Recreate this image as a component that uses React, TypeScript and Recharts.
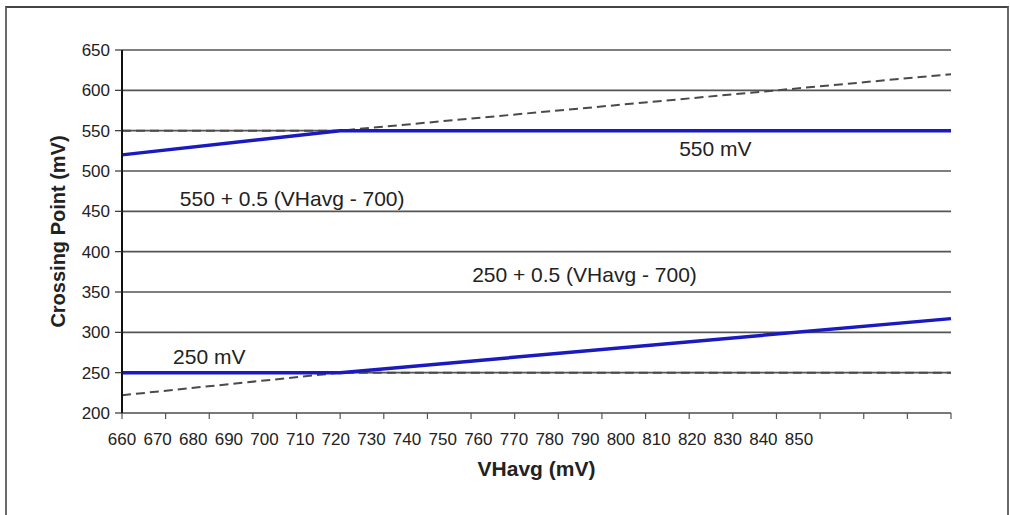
import React from 'react';
import { LineChart, Line, XAxis, YAxis, CartesianGrid, ReferenceDot } from 'recharts';

// VHavg axis tick labels (mV)
const xTicks = [660, 670, 680, 690, 700, 710, 720, 730, 740, 750, 760, 770, 780, 790, 800, 810, 820, 830, 840, 850];
// Crossing point axis ticks (mV)
const yTicks = [200, 250, 300, 350, 400, 450, 500, 550, 600, 650];

// Upper limit: sloped region then clamped at 550 mV
const upperLimit = [
  { x: 660, y: 520 },
  { x: 710, y: 550 },
  { x: 850, y: 550 },
];
// Upper reference: 550 mV flat, then 550 + 0.5 (VHavg - 700)
const upperReference = [
  { x: 660, y: 550 },
  { x: 710, y: 550 },
  { x: 850, y: 620 },
];
// Lower limit: clamped at 250 mV then sloped
const lowerLimit = [
  { x: 660, y: 250 },
  { x: 710, y: 250 },
  { x: 850, y: 317 },
];
// Lower reference: 250 + 0.5 (VHavg - 700), then 250 mV flat
const lowerReference = [
  { x: 660, y: 222 },
  { x: 710, y: 250 },
  { x: 850, y: 250 },
];

// Text annotations placed in data coordinates
const notes = [
  { x: 796, y: 528, text: '550 mV' },
  { x: 699, y: 466, text: '550 + 0.5 (VHavg - 700)' },
  { x: 766, y: 372, text: '250 + 0.5 (VHavg - 700)' },
  { x: 680, y: 270, text: '250 mV' },
];

const FONT = '"Liberation Sans", Arial, Helvetica, sans-serif';
const BLUE = '#1a1ac0';
const DASH = '#4a4a4a';
const LABEL_SHIFT = 8; // x tick labels are set tighter than the tick marks

const XTick = (props: any) => {
  const { x, y, payload, index } = props;
  const i = typeof index === 'number' ? index : payload?.index ?? 0;
  return (
    <text x={x - i * LABEL_SHIFT} y={y} dy="0.71em" textAnchor="middle" fontSize={17} fill="#222" fontFamily={FONT}>
      {payload.value}
    </text>
  );
};

const YTitle = (props: any) => {
  const vb = props.viewBox || { x: 42, y: 50, width: 80, height: 363 };
  const cx = vb.x + 16;
  const cy = vb.y + vb.height / 2;
  return (
    <text
      transform={`translate(${cx},${cy}) rotate(-90)`}
      textAnchor="middle"
      dominantBaseline="central"
      fontSize={20}
      fontWeight="bold"
      fill="#222"
      fontFamily={FONT}
    >
      Crossing Point (mV)
    </text>
  );
};

const XTitle = (props: any) => {
  const vb = props.viewBox || { x: 122, y: 413, width: 829, height: 70 };
  return (
    <text
      x={vb.x + vb.width / 2}
      y={vb.y + 55}
      textAnchor="middle"
      dominantBaseline="central"
      fontSize={21}
      fontWeight="bold"
      fill="#222"
      fontFamily={FONT}
    >
      VHavg (mV)
    </text>
  );
};

export default function App() {
  return (
    <div style={{ position: 'absolute', left: 0, top: 0, width: 1010, height: 515, overflow: 'hidden', background: '#fff' }}>
      <div
        style={{
          position: 'absolute',
          left: 5,
          top: 6,
          width: 1000,
          height: 560,
          border: '2px solid #6a6a6a',
          borderTopColor: '#444',
        }}
      />
      <LineChart
        width={1010}
        height={515}
        margin={{ top: 50, right: 59, left: 42, bottom: 32 }}
        style={{ position: 'absolute', left: 0, top: 0, fontFamily: FONT }}
      >
        <CartesianGrid vertical={false} stroke="#555" strokeWidth={1.6} />
        <XAxis
          type="number"
          dataKey="x"
          domain={[660, 850]}
          ticks={xTicks}
          interval={0}
          height={70}
          tickSize={6}
          tickMargin={14}
          tick={<XTick />}
          axisLine={{ stroke: '#777', strokeWidth: 1.5 }}
          tickLine={{ stroke: '#555', strokeWidth: 1.2 }}
          label={(p: any) => <XTitle {...p} />}
        />
        <YAxis
          type="number"
          domain={[200, 650]}
          ticks={yTicks}
          interval={0}
          width={80}
          tickSize={7}
          tickMargin={5}
          tick={{ fontSize: 17, fill: '#222', fontFamily: FONT }}
          axisLine={{ stroke: '#111', strokeWidth: 2 }}
          tickLine={{ stroke: '#333', strokeWidth: 1.2 }}
          label={(p: any) => <YTitle {...p} />}
        />
        <Line data={upperReference} dataKey="y" type="linear" stroke={DASH} strokeWidth={2} strokeDasharray="9 5" dot={false} activeDot={false} isAnimationActive={false} />
        <Line data={lowerReference} dataKey="y" type="linear" stroke={DASH} strokeWidth={2} strokeDasharray="9 5" dot={false} activeDot={false} isAnimationActive={false} />
        <Line data={upperLimit} dataKey="y" type="linear" stroke={BLUE} strokeWidth={3.5} dot={false} activeDot={false} isAnimationActive={false} />
        <Line data={lowerLimit} dataKey="y" type="linear" stroke={BLUE} strokeWidth={3.5} dot={false} activeDot={false} isAnimationActive={false} />
        {notes.map((n) => (
          <ReferenceDot
            key={n.text}
            x={n.x}
            y={n.y}
            r={0}
            fill="none"
            stroke="none"
            label={{ value: n.text, position: 'center', fontSize: 21, fill: '#222', fontFamily: FONT }}
          />
        ))}
      </LineChart>
    </div>
  );
}
